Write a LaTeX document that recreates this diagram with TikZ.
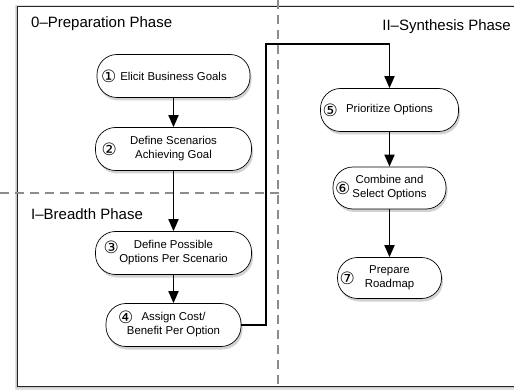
\documentclass[tikz,border=0pt]{standalone}
\usepackage{fontspec}
\setmainfont{Liberation Sans}
\newfontfamily\numfont{DejaVu Sans}
\usetikzlibrary{arrows.meta,shadows,calc}
\begin{document}
\begin{tikzpicture}[x=1pt,y=-1pt,
  stepbox/.style={draw=black, line width=0.7pt, fill=white, rounded corners=20pt,
    minimum height=43pt, align=center, font=\fontsize{11.4}{14}\selectfont, inner sep=0pt,
    drop shadow={shadow xshift=1.5pt,shadow yshift=-3pt,opacity=0.35}},
  num/.style={font=\numfont\fontsize{17}{17}\selectfont, inner sep=0pt},
  flow/.style={line width=1.8pt, -{Triangle[length=12pt,width=10pt]}},
  phase/.style={font=\fontsize{15}{18}\selectfont, inner sep=0pt},
  divider/.style={black!45, line width=1.5pt, dash pattern=on 9pt off 6pt}]
\useasboundingbox (0,0) rectangle (514,390);
\clip (0,0) rectangle (514,390);
\fill[white] (0,0) rectangle (514,390);
% outer frame with soft shadow
\fill[black!12] (14.5,5.5) rectangle (520,389.5);
\fill[black!22] (15.5,6.5) rectangle (520,388);
\draw[line width=1pt, draw=black!85, fill=white] (17,7) rectangle (520,386);

% dividers
\draw[divider] (278,0) -- (278,390);
\draw[divider] (0,193) -- (284,193);

% phase labels
\node[phase, anchor=base west] (p0) at (31,28) {0–Preparation Phase};
\node[phase, anchor=base west] (p1) at (31,219) {I–Breadth Phase};
\node[phase, anchor=base east] (p2) at (511,31) {II–Synthesis Phase};

% steps
\node[stepbox, minimum width=153pt] (n1) at (173.5,76) {Elicit Business Goals};
\node[stepbox, minimum width=156pt] (n2) at (173.5,149) {Define Scenarios\\Achieving Goal};
\node[stepbox, minimum width=156pt] (n3) at (173.5,253) {Define Possible\\Options Per Scenario};
\node[stepbox, minimum width=135pt] (n4) at (173.5,325) {Assign Cost/\\Benefit Per Option};
\node[stepbox, minimum width=138pt] (n5) at (389.5,110) {Prioritize Options};
\node[stepbox, minimum width=113pt, minimum height=42pt] (n6) at (389.5,188) {Combine and\\Select Options};
\node[stepbox, minimum width=104pt, minimum height=41pt] (n7) at (389.5,278) {Prepare\\Roadmap};

% numbers
\node[num] (c1) at ($(n1.west)+(12,0)$) {①};
\node[num] (c2) at ($(n2.west)+(14,0)$) {②};
\node[num] (c3) at ($(n3.west)+(16,-6)$) {③};
\node[num] (c4) at ($(n4.west)+(20,-8)$) {④};
\node[num] (c5) at ($(n5.west)+(10,0)$) {⑤};
\node[num] (c6) at ($(n6.west)+(10,0)$) {⑥};
\node[num] (c7) at ($(n7.west)+(10,0)$) {⑦};

% connectors
\coordinate (bend) at (266,44);
\draw[flow] (n1) -- (n2);
\draw[flow] (n2) -- (n3);
\draw[flow] (n3) -- (n4);
\draw[flow] (n4.east) -| (bend) -| (n5.north);
\draw[flow] (n5) -- (n6);
\draw[flow] (n6) -- (n7);
\end{tikzpicture}
\end{document}
